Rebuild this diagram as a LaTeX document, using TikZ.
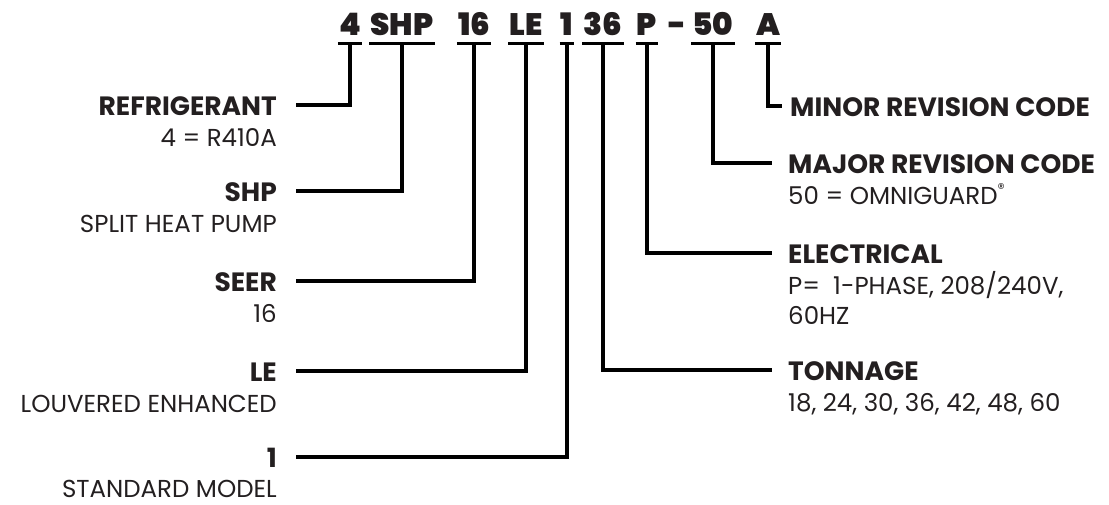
\documentclass[tikz,border=0pt]{standalone}
\usepackage{fontspec}
\setmainfont{Poppins}
\IfFontExistsTF{Poppins Black}{\newfontfamily\codefont{Poppins Black}}{\newfontfamily\codefont{Poppins Bold}[FakeBold=1.6]}
\definecolor{ink}{HTML}{231F20}
\begin{document}
\begin{tikzpicture}[x=1pt,y=-1pt,
  code/.style={font=\codefont\fontsize{31}{31}\selectfont, inner sep=0pt, anchor=base, text=ink},
  ttl/.style={font=\bfseries\fontsize{26.5}{26.5}\selectfont, inner sep=0pt, text=ink},
  sub/.style={font=\fontsize{24.5}{24.5}\selectfont, inner sep=0pt, text=ink},
  conn/.style={line width=3.4pt, black, line join=miter},
  uline/.style={line width=3pt, black}]
\useasboundingbox (0,0) rectangle (1109,504);
\coordinate (u) at (0,43);
% code tokens
\node[code] (t4) at (350,35) {4};
\node[code] (tSHP) at (402,35) {SHP};
\node[code] (t16) at (474,35) {16};
\node[code] (tLE) at (526,35) {LE};
\node[code] (t1) at (567,35) {1};
\node[code] (t36) at (603,35) {36};
\node[code] (tP) at (647,35) {P};
\node[code] (tdash) at (677,35) {-};
\node[code] (t50) at (713,35) {50};
\node[code] (tA) at (768,35) {A};
\foreach \t in {t4,tSHP,t16,tLE,t1,t36,tP,t50,tA}
  \draw[uline] ([xshift=-1pt]\t.west |- u) -- ([xshift=1pt]\t.east |- u);
% left labels
\node[ttl, anchor=base east] (lRef) at (277,115) {REFRIGERANT};
\node[sub, anchor=base east] (sRef) at (277,146) {4 = R410A};
\node[ttl, anchor=base east] (lSHP) at (277,201) {SHP};
\node[sub, anchor=base east] (sSHP) at (277,232) {SPLIT HEAT PUMP};
\node[ttl, anchor=base east] (lSEER) at (277,291) {SEER};
\node[sub, anchor=base east] (sSEER) at (277,322) {16};
\node[ttl, anchor=base east] (lLE) at (277,381) {LE};
\node[sub, anchor=base east] (sLE) at (277,412) {LOUVERED ENHANCED};
\node[ttl, anchor=base east] (l1) at (277,467) {1};
\node[sub, anchor=base east] (s1) at (277,497) {STANDARD MODEL};
% right labels
\node[ttl, anchor=base west] (rMin) at (790,116) {MINOR REVISION CODE};
\node[ttl, anchor=base west] (rMaj) at (788,173) {MAJOR REVISION CODE};
\node[sub, anchor=base west] (sMaj) at (788,204) {50 = OMNIGUARD\raisebox{0.42em}{\fontsize{14}{14}\selectfont ®}};
\node[ttl, anchor=base west] (rEl) at (788,263) {ELECTRICAL};
\node[sub, anchor=base west] (sEl) at (788,294) {P=\ \ 1-PHASE, 208/240V,};
\node[sub, anchor=base west] (sEl2) at (788,324) {60HZ};
\node[ttl, anchor=base west] (rTon) at (788,380) {TONNAGE};
\node[sub, anchor=base west] (sTon) at (788,411) {18, 24, 30, 36, 42, 48, 60};
% connectors
\draw[conn] (t4.south |- u) |- ([xshift=19pt,yshift=10pt]lRef.base east);
\draw[conn] (tSHP.south |- u) |- ([xshift=19pt,yshift=10pt]lSHP.base east);
\draw[conn] (t16.south |- u) |- ([xshift=19pt,yshift=10pt]lSEER.base east);
\draw[conn] (tLE.south |- u) |- ([xshift=19pt,yshift=10pt]lLE.base east);
\draw[conn] (t1.south |- u) |- ([xshift=19pt,yshift=10pt]l1.base east);
\draw[conn] (tA.south |- u) |- ([xshift=-8pt,yshift=10pt]rMin.base west);
\draw[conn] (t50.south |- u) |- ([xshift=-16pt,yshift=10pt]rMaj.base west);
\draw[conn] (tP.south |- u) |- ([xshift=-16pt,yshift=10pt]rEl.base west);
\draw[conn] (t36.south |- u) |- ([xshift=-16pt,yshift=10pt]rTon.base west);
\end{tikzpicture}
\end{document}
